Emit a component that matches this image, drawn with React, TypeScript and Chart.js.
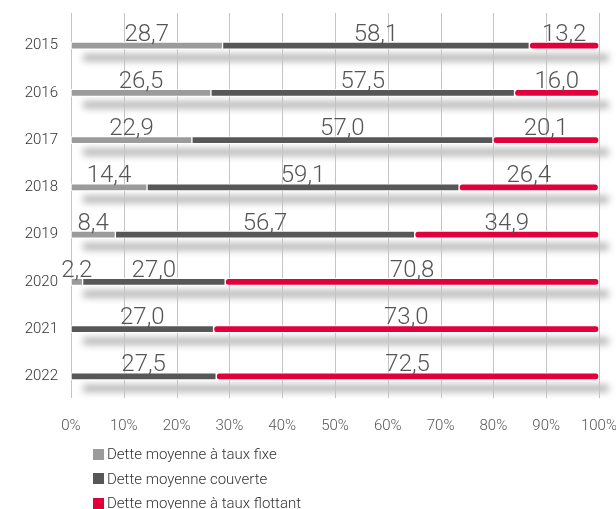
import React, { useEffect, useRef } from "react";
import { Chart, registerables } from "chart.js";

Chart.register(...registerables);

const years = ["2015", "2016", "2017", "2018", "2019", "2020", "2021", "2022"];
const fixe = [28.7, 26.5, 22.9, 14.4, 8.4, 2.2, 0, 0];
const couverte = [58.1, 57.5, 57.0, 59.1, 56.7, 27.0, 27.0, 27.5];
const flottant = [13.2, 16.0, 20.1, 26.4, 34.9, 70.8, 73.0, 72.5];
const seriesNames = [
  "Dette moyenne à taux fixe",
  "Dette moyenne couverte",
  "Dette moyenne à taux flottant",
];
const colors = ["#9b9b9b", "#575757", "#e2003c"];
const xTicks = [0, 10, 20, 30, 40, 50, 60, 70, 80, 90, 100];

const FONT = "Roboto, 'Liberation Sans', sans-serif";

const gridPlugin = {
  id: "customGrid",
  beforeDatasetsDraw(chart: any) {
    const { ctx, scales } = chart;
    const xs = scales.x;
    const ys = scales.y;
    ctx.save();
    // shadows
    ctx.save();
    ctx.filter = "blur(3.5px)";
    ctx.fillStyle = "rgba(0,0,0,0.30)";
    years.forEach((_, i) => {
      const y = ys.getPixelForValue(i) + 12;
      const x0 = xs.getPixelForValue(2.3);
      const x1 = xs.getPixelForValue(101.8);
      ctx.fillRect(x0, y - 3.5, x1 - x0, 7);
    });
    ctx.restore();
    // grid lines
    ctx.strokeStyle = "#c4c4c4";
    ctx.lineWidth = 1;
    xTicks.forEach((v) => {
      const x = Math.round(xs.getPixelForValue(v)) + 0.5;
      ctx.beginPath();
      ctx.moveTo(x, 13);
      ctx.lineTo(x, 398);
      ctx.stroke();
    });
    ctx.restore();
  },
};

const labelPlugin = {
  id: "valueLabels",
  afterDatasetsDraw(chart: any) {
    const { ctx } = chart;
    ctx.save();
    ctx.font = `300 24px ${FONT}`;
    ctx.fillStyle = "#555555";
    ctx.textAlign = "center";
    ctx.textBaseline = "alphabetic";
    chart.data.datasets.forEach((ds: any, di: number) => {
      const meta = chart.getDatasetMeta(di);
      meta.data.forEach((el: any, i: number) => {
        const v = ds.data[i];
        if (v === null || v === undefined || v === 0) return;
        const cx = (el.x + el.base) / 2;
        ctx.fillText(v.toFixed(1).replace(".", ","), cx, el.y - 5);
      });
    });
    ctx.restore();
  },
};

export default function App() {
  const ref = useRef<HTMLCanvasElement>(null);
  useEffect(() => {
    if (!ref.current) return;
    const all = [fixe, couverte, flottant];
    const chart = new Chart(ref.current, {
      type: "bar",
      data: {
        labels: years,
        datasets: all.map((arr, k) => ({
          label: seriesNames[k],
          data: arr.map((v) => (v === 0 ? null : v)),
          backgroundColor: colors[k],
          borderColor: "#ffffff",
          borderWidth: 1,
          borderRadius: 4,
          borderSkipped: false,
          barThickness: 7,
        })),
      },
      options: {
        indexAxis: "y",
        responsive: false,
        animation: false,
        layout: { padding: { top: 22, right: 17, left: 0, bottom: 0 } },
        plugins: {
          legend: { display: false },
          tooltip: { enabled: false },
        },
        scales: {
          x: {
            stacked: true,
            min: 0,
            max: 100,
            grid: { display: false },
            border: { display: false },
            afterFit: (s: any) => {
              s.height = 109;
              s.paddingRight = 0;
              s.paddingLeft = 0;
            },
            ticks: {
              stepSize: 10,
              padding: 9,
              color: "#555555",
              font: { family: FONT, size: 15, weight: "300" },
              callback: (v: any) => v + "%",
              maxRotation: 0,
              autoSkip: false,
            },
          },
          y: {
            stacked: true,
            grid: { display: false },
            border: { display: false },
            afterFit: (s: any) => {
              s.width = 71;
            },
            ticks: {
              padding: 5,
              color: "#333333",
              font: { family: FONT, size: 15, weight: "300" },
            },
          },
        },
      },
      plugins: [gridPlugin, labelPlugin],
    } as any);
    return () => chart.destroy();
  }, []);

  const legendCenters = [454, 478.5, 503];
  return (
    <div style={{ position: "absolute", left: 0, top: 0, width: 616, height: 509, background: "#fff", overflow: "hidden" }}>
      <canvas ref={ref} width={616} height={509} style={{ display: "block" }} />
      {seriesNames.map((n, k) => (
        <div
          key={n}
          style={{
            position: "absolute",
            left: 93,
            top: legendCenters[k] - 10,
            height: 20,
            display: "flex",
            alignItems: "center",
            fontFamily: FONT,
            fontSize: 15,
            fontWeight: 300,
            color: "#333",
            whiteSpace: "nowrap",
          }}
        >
          <span style={{ display: "inline-block", width: 11, height: 11, background: colors[k], marginRight: 3 }} />
          {n}
        </div>
      ))}
    </div>
  );
}
